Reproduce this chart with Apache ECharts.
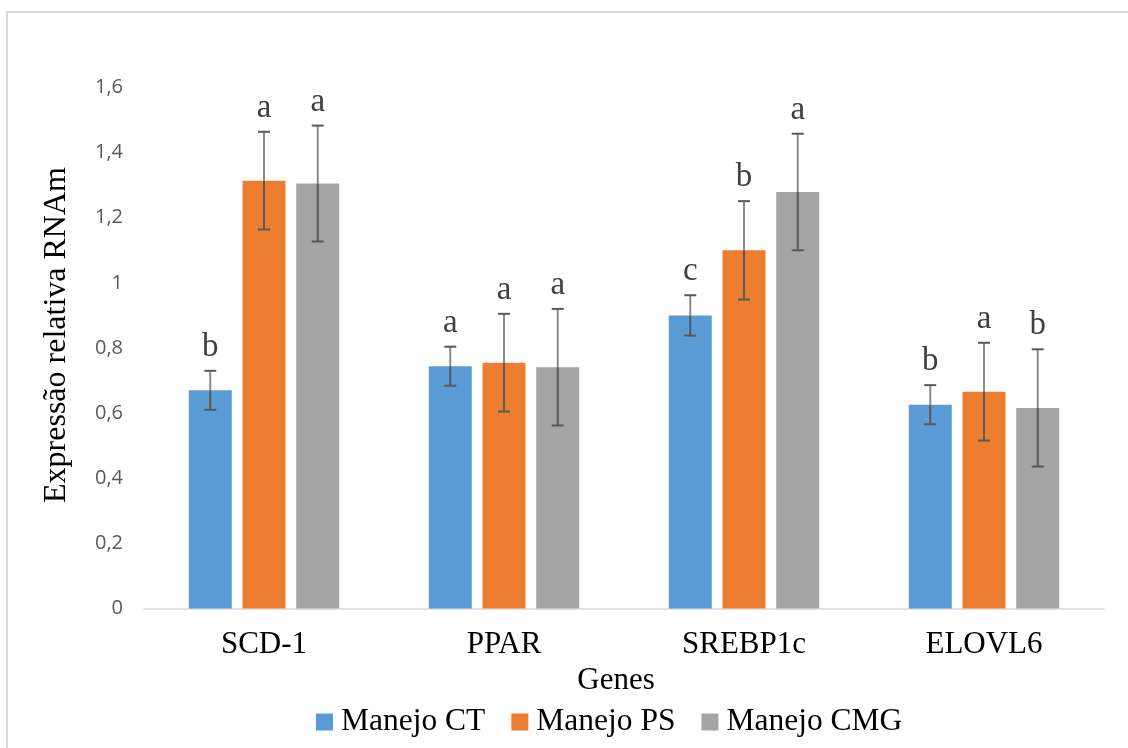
<!DOCTYPE html>
<html>
<head>
<meta charset="utf-8">
<script src="https://cdn.jsdelivr.net/npm/echarts@6/dist/echarts.min.js"></script>
<style>
html,body{margin:0;padding:0;background:#fff;}
#chart{width:1128px;height:748px;}
</style>
</head>
<body>
<div id="chart"></div>
<script>
// ---- data ----
const categories = ['SCD-1', 'PPAR', 'SREBP1c', 'ELOVL6'];
const seriesNames = ['Manejo CT', 'Manejo PS', 'Manejo CMG'];
const ctValues  = [0.670, 0.744, 0.900, 0.626];
const psValues  = [1.314, 0.755, 1.100, 0.666];
const cmgValues = [1.305, 0.741, 1.279, 0.616];
const ctErrors  = [0.060, 0.060, 0.062, 0.060];
const psErrors  = [0.150, 0.150, 0.151, 0.150];
const cmgErrors = [0.178, 0.179, 0.179, 0.180];
const ctLetters  = ['b', 'a', 'c', 'b'];
const psLetters  = ['a', 'a', 'b', 'a'];
const cmgLetters = ['a', 'a', 'a', 'b'];
const yTickLabels = ['0', '0,2', '0,4', '0,6', '0,8', '1', '1,2', '1,4', '1,6'];
const colors = ['#5b9bd5', '#ed7d31', '#a5a5a5'];

// ---- layout/style ----
const BAR_W = 43;
const GAP_PX = 10.75;
const SERIF = '"Liberation Serif", "Times New Roman", serif';
const SANS = '"Open Sans", "Liberation Sans", sans-serif';

const groups = [
  {values: ctValues, errors: ctErrors, letters: ctLetters},
  {values: psValues, errors: psErrors, letters: psLetters},
  {values: cmgValues, errors: cmgErrors, letters: cmgLetters}
];

function errSeries(k) {
  const g = groups[k];
  const offset = (k - 1) * (BAR_W + GAP_PX);
  return {
    type: 'custom',
    name: seriesNames[k] + ' err',
    z: 5,
    silent: true,
    data: categories.map((c, i) => [i, g.values[i], g.errors[i]]),
    renderItem: function (params, api) {
      const cat = api.value(0), val = api.value(1), err = api.value(2);
      const p = api.coord([cat, val]);
      const x = p[0] + offset;
      const yVal = p[1];
      const yTop = api.coord([cat, val + err])[1];
      const yBot = api.coord([cat, val - err])[1];
      const dark = '#595959';
      const light = '#8a8a8a';
      return {
        type: 'group',
        children: [
          {type: 'line', shape: {x1: x, y1: yTop, x2: x, y2: yVal}, style: {stroke: light, lineWidth: 2}},
          {type: 'line', shape: {x1: x, y1: yVal, x2: x, y2: yBot}, style: {stroke: dark, lineWidth: 2}},
          {type: 'line', shape: {x1: x - 6, y1: yTop, x2: x + 6, y2: yTop}, style: {stroke: dark, lineWidth: 2}},
          {type: 'line', shape: {x1: x - 6, y1: yBot, x2: x + 6, y2: yBot}, style: {stroke: dark, lineWidth: 2}},
          {type: 'text', x: x, y: yTop - 7,
            style: {text: g.letters[params.dataIndex], fill: '#404040', font: '33px ' + SERIF,
                    align: 'center', verticalAlign: 'bottom'}}
        ]
      };
    }
  };
}

const barSeries = groups.map((g, k) => ({
  type: 'bar',
  name: seriesNames[k],
  data: g.values,
  barWidth: BAR_W,
  barGap: (GAP_PX / BAR_W * 100).toFixed(1) + '%',
  itemStyle: {color: colors[k]},
  emphasis: {disabled: true}
}));

const chart = echarts.init(document.getElementById('chart'), null, {renderer: 'canvas'});
chart.setOption({
  animation: false,
  backgroundColor: '#ffffff',
  color: colors,
  graphic: [{
    type: 'rect', shape: {x: 7, y: 12, width: 1300, height: 900},
    style: {fill: 'none', stroke: '#d9d9d9', lineWidth: 2}, silent: true
  }],
  grid: {left: 144, right: 24, top: 87.5, bottom: 139.5},
  legend: {
    data: seriesNames,
    left: 316,
    top: 706,
    padding: 0,
    itemWidth: 17,
    itemHeight: 17,
    itemGap: 26,
    icon: 'rect',
    textStyle: {fontFamily: SERIF, fontSize: 31.5, color: '#000', padding: [0, 0, 0, 3]}
  },
  xAxis: {
    type: 'category',
    data: categories,
    name: 'Genes',
    nameLocation: 'middle',
    nameGap: 53,
    nameTextStyle: {fontFamily: SERIF, fontSize: 31, color: '#000', padding: [0, 16, 0, 0]},
    axisLine: {lineStyle: {color: '#d9d9d9', width: 1.5}},
    axisTick: {show: false},
    axisLabel: {fontFamily: SERIF, fontSize: 31, color: '#000', margin: 21}
  },
  yAxis: {
    type: 'value',
    min: 0, max: 1.6, interval: 0.2,
    name: 'Expressão relativa RNAm',
    nameLocation: 'middle',
    nameRotate: 90,
    nameGap: 71,
    nameTextStyle: {fontFamily: SERIF, fontSize: 32, color: '#000', padding: [0, 0, 0, 26]},
    axisLine: {show: false},
    axisTick: {show: false},
    splitLine: {show: false},
    axisLabel: {
      fontFamily: SANS, fontSize: 20, color: '#595959', margin: 21,
      formatter: function (v) { return yTickLabels[Math.round(v / 0.2)]; }
    }
  },
  series: barSeries.concat([errSeries(0), errSeries(1), errSeries(2)])
});
</script>
</body>
</html>
